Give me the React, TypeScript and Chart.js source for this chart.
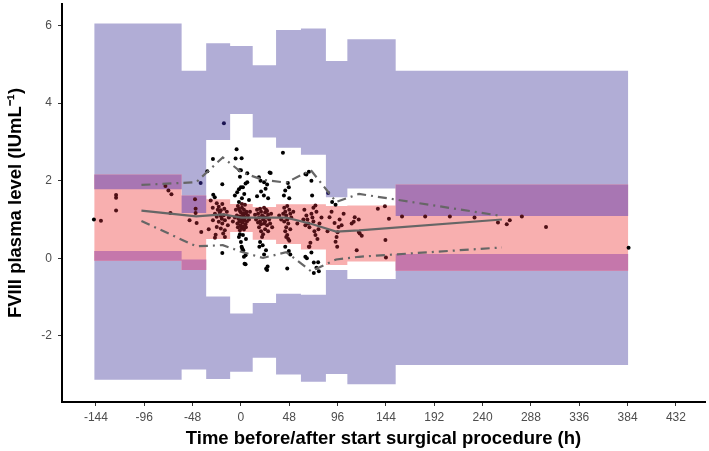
import React, { useEffect, useRef } from 'react';
import { Chart, registerables } from 'chart.js';

Chart.register(...registerables);

// ---- Data ----
const binEdges = [-145.7, -58.9, -34.5, -10.7, 11.7, 34.9, 59.6, 84.4, 105.7, 153.7, 384.7];
const pi95Hi = [6.05, 4.83, 5.54, 5.47, 4.97, 5.88, 5.92, 5.08, 5.64, 4.83];
const pi95Lo = [1.78, 1.17, 3.05, 3.72, 3.11, 2.85, 2.67, 1.57, 1.8, 1.09];
const piMedHi = [2.16, 1.62, 1.52, 1.4, 1.32, 1.39, 1.39, 1.35, 1.36, 1.9];
const piMedLo = [-0.06, -0.3, 0.5, 0.68, 0.48, 0.37, 0.23, -0.17, -0.08, -0.32];
const pi5Hi = [0.19, -0.03, -0.98, -1.42, -1.15, -0.91, -0.94, -0.3, -0.53, 0.11];
const pi5Lo = [-3.13, -2.86, -3.11, -2.92, -2.56, -2.99, -3.18, -2.98, -3.24, -2.75];

const obsTime = [-98.8, -44.4, -18, 0.2, 22, 45, 69.5, 94.6, 117.3, 259.2];
const obsMedian = [1.23, 1.08, 1.13, 1.05, 1.05, 1.05, 0.89, 0.69, 0.72, 1.0];
const obsP95 = [1.89, 1.96, 2.6, 2.22, 2.02, 1.95, 2.27, 1.45, 1.66, 1.09];
const obsP5 = [0.96, 0.31, 0.34, 0.17, 0.01, 0.16, -0.33, -0.03, 0.04, 0.28];

const xTicks = [-144, -96, -48, 0, 48, 96, 144, 192, 240, 288, 336, 384, 432];
const yTicks = [-2, 0, 2, 4, 6];

const observations: [number, number][] = [
  // bin 1
  [-146, 1.0], [-139, 0.97], [-124, 1.63], [-124, 1.56], [-124, 1.23], [-75, 1.86], [-72, 1.75], [-69, 1.65], [-70, 1.17],
  // bin 2
  [-51, 0.98], [-45.6, 1.52], [-45, 1.28], [-45, 1.17], [-44, 0.91], [-39.4, 0.68], [-40, 1.94],
  // bin 3
  [-33.4, 2.24], [-27.8, 2.56], [-18.5, 1.91], [-16.9, 3.48], [-27.5, 1.64], [-26, 1.57],
  [-30, 1.49], [-24, 1.42], [-22, 1.33], [-20, 1.24], [-18.5, 1.4], [-16.5, 1.28], [-25.8, 1.15], [-24, 1.07],
  [-20, 1.09], [-17, 1.11], [-27.8, 0.98], [-22, 0.94], [-18.5, 0.9], [-15.9, 0.98], [-24, 0.81], [-20, 0.77],
  [-16, 0.72], [-21, 1.18], [-19, 1.02], [-23, 1.25], [-14, 1.2], [-13, 0.85], [-28, 1.3], [-12, 1.05],
  [-25.8, 0.53], [-25.1, 0.61], [-17.6, 0.64], [-15.9, 0.55], [-18.5, 0.14], [-32, 0.75],
  // bin 4
  [-4.3, 2.81], [-5.3, 2.57], [0.7, 2.58], [0, 2.27], [-1, 2.1], [6.3, 2.19], [4.6, 1.93], [0, 1.83], [3.3, 1.66],
  [-3.7, 1.7], [-1.3, 2.27], [2, 1.83], [6.3, 1.96], [-6, 1.62], [1, 1.55], [-2, 1.78], [8, 1.5],
  [-3, 1.35], [-2, 1.28], [-1, 1.22], [0, 1.18], [1, 1.3], [2, 1.12], [3, 1.25], [4, 1.05], [5, 1.15], [-4, 1.1],
  [-2.5, 1.02], [-1.5, 0.95], [0.5, 1.0], [1.5, 0.92], [2.5, 1.08], [3.5, 0.98], [4.5, 0.88], [5.5, 1.2], [-3.5, 0.9],
  [-0.5, 0.85], [0.5, 0.78], [2, 0.82], [3, 0.74], [-1, 0.72], [6, 0.95], [7, 1.1], [-5, 1.25], [-6, 1.05], [8, 1.0],
  [9, 1.2], [-8, 0.95], [1, 1.4], [-2, 1.45], [4, 1.38], [0, 0.98], [2, 1.02], [-1, 1.08], [3, 1.16], [5, 0.8], [-3, 0.8],
  [0, 0.42], [0.7, 0.3], [2.3, 0.21], [3.6, -0.14], [4.6, 0.08], [3, 0.04], [1.3, 0.25], [4.6, -0.15], [-2, 0.55],
  [5, 0.5], [2, 0.6], [-1, 0.62],
  // bin 5
  [17.9, 2.09], [19.5, 2.0], [28.5, 2.21], [29.5, 2.2], [24.5, 1.79], [22.8, 1.62], [23, 1.96], [26, 1.9], [20, 1.72],
  [27, 1.55], [16, 1.6],
  [16, 1.25], [17, 1.15], [18, 1.05], [19, 0.95], [20, 1.2], [21, 1.1], [22, 1.0], [23, 0.9], [24, 1.18], [25, 1.05],
  [26, 0.85], [27, 1.12], [18, 0.8], [20, 0.7], [22, 0.62], [24, 0.75], [21, 0.55], [19, 1.28], [23, 1.3], [25, 1.25],
  [28, 1.0], [29, 0.9], [30, 1.15], [17, 0.92], [15, 1.0], [26, 1.22], [22, 1.08], [24, 0.95], [20, 0.88], [27, 0.7],
  [31, 0.8], [14, 1.12],
  [18.3, 0.3], [21.6, 0.34], [24.9, 0.21], [23, 0.1], [26.5, -0.21], [25, -0.27], [26, -0.3], [19, 0.42],
  // bin 6
  [41.7, 2.72], [46.6, 1.94], [47.6, 1.83], [42.7, 1.62], [44, 1.75], [48, 1.55],
  [43, 1.3], [44, 1.2], [45, 1.1], [46, 1.0], [47, 0.9], [48, 1.25], [49, 1.15], [45, 0.8], [44, 0.7], [46, 0.6],
  [47, 0.5], [48, 0.45], [43, 0.95], [50, 1.05], [42, 1.15], [49, 0.75], [40, 1.0], [52, 1.2], [46, 1.35], [45, 0.55],
  [56, 0.9], [38, 1.1],
  [46, -0.26], [47.6, 0.19], [44, 0.3], [49, 0.1],
  // bin 7
  [67.5, 2.23], [64, 2.17], [65, 2.16], [70, 2.0], [70.7, 1.62], [74, 1.36],
  [63, 1.25], [65, 1.1], [66, 1.0], [67, 0.9], [68, 0.8], [70, 1.15], [71, 1.05], [72, 0.95], [73, 0.7], [74, 0.6],
  [75, 1.2], [76, 0.5], [69, 0.4], [68, 0.3], [72, 1.3], [64, 0.85], [62, 1.0], [78, 0.9], [77, 0.75], [80, 1.05],
  [64, 0.04], [65.5, 0.0], [72.4, -0.11], [72.4, -0.38], [76.7, -0.1], [77.4, -0.33], [75, -0.24], [67.5, 0.3], [70, 0.15],
  // bin 8
  [86.6, 1.68], [90.6, 1.45], [94, 1.38], [88, 1.06], [93, 0.91], [94, 0.43], [95.6, 0.3], [97, 0.81], [96, 0.67],
  [95, 0.55], [100, 0.85], [90, 1.2], [98, 1.0], [86, 0.7], [102, 1.15],
  // bin 9
  [113, 1.06], [117, 1.0], [117, 0.68], [118, 0.64], [120, 0.58], [115, 0.21], [136, 1.28], [143, 1.34], [147, 1.02],
  [143.5, 0.47], [144, 0.02], [112, 0.94], [110, 0.9],
  // bin 10
  [160, 1.08], [183, 1.08], [207.5, 1.08], [232, 1.05], [255.3, 0.92], [264, 0.88], [267, 0.98], [279, 1.08],
  [303, 0.81], [385, 0.27],
];

// ---- Styles ----
const LAVENDER = '#B1ADD6';
const PINK = '#F8AFAF';
const UPPER_OVERLAP = '#A876B3';
const LOWER_OVERLAP = '#C577AB';
const LINE_GREY = '#666666';
const FONT = "'Liberation Sans', Arial, Helvetica, sans-serif";

function stepPts(vals: number[]) {
  const pts: { x: number; y: number }[] = [];
  vals.forEach((v, i) => {
    pts.push({ x: binEdges[i], y: v });
    pts.push({ x: binEdges[i + 1], y: v });
  });
  return pts;
}

function overlap(aLo: number[], aHi: number[], bLo: number[], bHi: number[]) {
  const lo = aLo.map((v, i) => Math.max(v, bLo[i]));
  const hi = lo.map((l, i) => Math.max(l, Math.min(aHi[i], bHi[i])));
  return { lo, hi };
}

function pointColor(t: number, v: number) {
  let b = -1;
  for (let i = 0; i < binEdges.length - 1; i++) {
    if (t >= binEdges[i] && t < binEdges[i + 1]) b = i;
  }
  if (b < 0) return '#000000';
  if (v >= piMedLo[b] && v <= piMedHi[b]) return '#4E1016';
  if ((v >= pi95Lo[b] && v <= pi95Hi[b]) || (v >= pi5Lo[b] && v <= pi5Hi[b])) return '#1B1452';
  return '#000000';
}

function band(lo: number[], hi: number[], color: string, order: number) {
  return [
    {
      type: 'line',
      data: stepPts(lo),
      borderWidth: 0,
      pointRadius: 0,
      fill: false,
      order: order + 1,
    },
    {
      type: 'line',
      data: stepPts(hi),
      borderWidth: 0,
      pointRadius: 0,
      backgroundColor: color,
      fill: '-1',
      order,
    },
  ];
}

export default function App() {
  const ref = useRef<HTMLCanvasElement>(null);

  useEffect(() => {
    if (!ref.current) return;
    const up = overlap(pi95Lo, pi95Hi, piMedLo, piMedHi);
    const low = overlap(pi5Lo, pi5Hi, piMedLo, piMedHi);

    const datasets: any[] = [
      ...band(pi95Lo, pi95Hi, LAVENDER, 30),
      ...band(pi5Lo, pi5Hi, LAVENDER, 26),
      ...band(piMedLo, piMedHi, PINK, 22),
      ...band(up.lo, up.hi, UPPER_OVERLAP, 18),
      ...band(low.lo, low.hi, LOWER_OVERLAP, 14),
      {
        type: 'scatter',
        data: observations.map(([x, y]) => ({ x, y })),
        pointRadius: 2,
        pointBorderWidth: 0,
        pointBackgroundColor: (ctx: any) => {
          const r = ctx.raw;
          return r ? pointColor(r.x, r.y) : '#000';
        },
        showLine: false,
        order: 8,
      },
      {
        type: 'line',
        data: obsTime.map((x, i) => ({ x, y: obsMedian[i] })),
        borderColor: LINE_GREY,
        borderWidth: 2.2,
        pointRadius: 0,
        fill: false,
        order: 3,
      },
      {
        type: 'line',
        data: obsTime.map((x, i) => ({ x, y: obsP95[i] })),
        borderColor: LINE_GREY,
        borderWidth: 2.2,
        borderDash: [9, 5, 2, 5],
        pointRadius: 0,
        fill: false,
        order: 2,
      },
      {
        type: 'line',
        data: obsTime.map((x, i) => ({ x, y: obsP5[i] })),
        borderColor: LINE_GREY,
        borderWidth: 2.2,
        borderDash: [9, 5, 2, 5],
        pointRadius: 0,
        fill: false,
        order: 1,
      },
    ];

    const chart = new Chart(ref.current, {
      type: 'line',
      data: { datasets },
      options: {
        animation: false,
        responsive: true,
        maintainAspectRatio: false,
        layout: { padding: { left: 0, right: 2, top: 0, bottom: 0 } },
        plugins: {
          legend: { display: false },
          tooltip: { enabled: false },
          filler: { propagate: false },
        },
        elements: { line: { tension: 0 } },
        scales: {
          x: {
            type: 'linear',
            min: -177.7,
            max: 460.9,
            afterBuildTicks: (scale: any) => {
              scale.ticks = xTicks.map((v) => ({ value: v }));
            },
            afterFit: (scale: any) => {
              scale.height = 49;
              scale.paddingLeft = 0;
              scale.paddingRight = 0;
            },
            ticks: {
              font: { family: FONT, size: 12 },
              color: '#4D4D4D',
              padding: 4,
              maxRotation: 0,
              autoSkip: false,
            },
            grid: { drawOnChartArea: false, drawTicks: true, tickLength: 4, color: '#333333', lineWidth: 1 },
            border: { display: true, color: '#000000', width: 2 },
            title: {
              display: true,
              text: 'Time before/after start surgical procedure (h)',
              font: { family: FONT, size: 18.5, weight: 'bold' },
              color: '#000000',
              padding: { top: 0, bottom: 1 },
            },
          },
          y: {
            type: 'linear',
            min: -3.7,
            max: 6.55,
            afterBuildTicks: (scale: any) => {
              scale.ticks = yTicks.map((v) => ({ value: v }));
            },
            afterFit: (scale: any) => {
              scale.width = 62;
              scale.paddingTop = 0;
              scale.paddingBottom = 0;
            },
            ticks: {
              font: { family: FONT, size: 12 },
              color: '#4D4D4D',
              padding: 6,
              autoSkip: false,
            },
            grid: { drawOnChartArea: false, drawTicks: true, tickLength: 4, color: '#333333', lineWidth: 1 },
            border: { display: true, color: '#000000', width: 2 },
            title: {
              display: true,
              text: 'FVIII plasma level (IUmL\u207B\u00B9)',
              font: { family: FONT, size: 18.5, weight: 'bold' },
              color: '#000000',
              padding: { top: 5, bottom: 0 },
            },
          },
        },
      } as any,
    });
    return () => chart.destroy();
  }, []);

  return (
    <div style={{ position: 'absolute', left: 0, top: 0, width: 709, height: 451, background: '#ffffff' }}>
      <canvas ref={ref} />
    </div>
  );
}
